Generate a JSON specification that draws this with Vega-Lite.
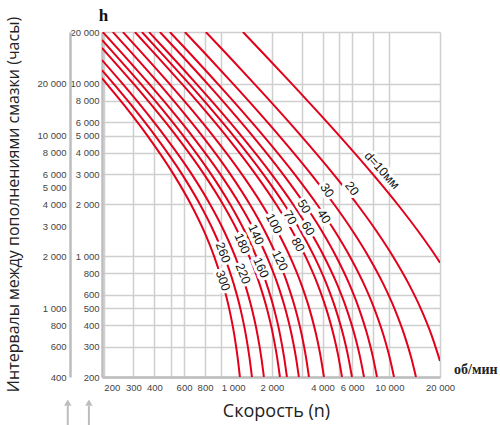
{
  "$schema": "https://vega.github.io/schema/vega-lite/v6.json",
  "width": 338,
  "height": 345,
  "autosize": {"type": "none"},
  "padding": {"left": 102, "top": 32, "right": 60, "bottom": 48},
  "background": "white",
  "config": {"view": {"stroke": null}},
  "datasets": {
    "curves": [
      {"d":10,"n":1344,"h":20000},{"d":10,"n":1779,"h":15000},{"d":10,"n":2630,"h":10000},{"d":10,"n":3688,"h":7000},{"d":10,"n":5041,"h":5000},{"d":10,"n":7961,"h":3000},{"d":10,"n":11207,"h":2000},{"d":10,"n":14835,"h":1400},{"d":10,"n":17701,"h":1100},{"d":10,"n":20000,"h":920},
      {"d":20,"n":809,"h":20000},{"d":20,"n":1069,"h":15000},{"d":20,"n":1573,"h":10000},{"d":20,"n":2196,"h":7000},{"d":20,"n":2982,"h":5000},{"d":20,"n":4645,"h":3000},{"d":20,"n":6442,"h":2000},{"d":20,"n":8389,"h":1400},{"d":20,"n":10507,"h":1000},{"d":20,"n":12960,"h":700},{"d":20,"n":15348,"h":500},{"d":20,"n":17811,"h":350},{"d":20,"n":20000,"h":248},
      {"d":30,"n":607,"h":20000},{"d":30,"n":801,"h":15000},{"d":30,"n":1176,"h":10000},{"d":30,"n":1636,"h":7000},{"d":30,"n":2212,"h":5000},{"d":30,"n":3417,"h":3000},{"d":30,"n":4696,"h":2000},{"d":30,"n":6056,"h":1400},{"d":30,"n":7505,"h":1000},{"d":30,"n":9146,"h":700},{"d":30,"n":10706,"h":500},{"d":30,"n":12278,"h":350},{"d":30,"n":13464,"h":260},{"d":30,"n":14390,"h":200},
      {"d":40,"n":494,"h":20000},{"d":40,"n":651,"h":15000},{"d":40,"n":953,"h":10000},{"d":40,"n":1321,"h":7000},{"d":40,"n":1780,"h":5000},{"d":40,"n":2726,"h":3000},{"d":40,"n":3712,"h":2000},{"d":40,"n":4742,"h":1400},{"d":40,"n":5818,"h":1000},{"d":40,"n":7011,"h":700},{"d":40,"n":8121,"h":500},{"d":40,"n":9216,"h":350},{"d":40,"n":10026,"h":260},{"d":40,"n":10651,"h":200},
      {"d":50,"n":431,"h":20000},{"d":50,"n":567,"h":15000},{"d":50,"n":828,"h":10000},{"d":50,"n":1143,"h":7000},{"d":50,"n":1533,"h":5000},{"d":50,"n":2326,"h":3000},{"d":50,"n":3138,"h":2000},{"d":50,"n":3969,"h":1400},{"d":50,"n":4819,"h":1000},{"d":50,"n":5743,"h":700},{"d":50,"n":6583,"h":500},{"d":50,"n":7396,"h":350},{"d":50,"n":7987,"h":260},{"d":50,"n":8436,"h":200},
      {"d":60,"n":371,"h":20000},{"d":60,"n":488,"h":15000},{"d":60,"n":711,"h":10000},{"d":60,"n":982,"h":7000},{"d":60,"n":1315,"h":5000},{"d":60,"n":1989,"h":3000},{"d":60,"n":2675,"h":2000},{"d":60,"n":3374,"h":1400},{"d":60,"n":4085,"h":1000},{"d":60,"n":4852,"h":700},{"d":60,"n":5546,"h":500},{"d":60,"n":6212,"h":350},{"d":60,"n":6695,"h":260},{"d":60,"n":7061,"h":200},
      {"d":70,"n":337,"h":20000},{"d":70,"n":442,"h":15000},{"d":70,"n":644,"h":10000},{"d":70,"n":886,"h":7000},{"d":70,"n":1182,"h":5000},{"d":70,"n":1776,"h":3000},{"d":70,"n":2372,"h":2000},{"d":70,"n":2969,"h":1400},{"d":70,"n":3569,"h":1000},{"d":70,"n":4206,"h":700},{"d":70,"n":4774,"h":500},{"d":70,"n":5312,"h":350},{"d":70,"n":5697,"h":260},{"d":70,"n":5986,"h":200},
      {"d":80,"n":306,"h":20000},{"d":80,"n":401,"h":15000},{"d":80,"n":583,"h":10000},{"d":80,"n":801,"h":7000},{"d":80,"n":1067,"h":5000},{"d":80,"n":1596,"h":3000},{"d":80,"n":2123,"h":2000},{"d":80,"n":2646,"h":1400},{"d":80,"n":3167,"h":1000},{"d":80,"n":3716,"h":700},{"d":80,"n":4201,"h":500},{"d":80,"n":4657,"h":350},{"d":80,"n":4981,"h":260},{"d":80,"n":5224,"h":200},
      {"d":100,"n":259.5,"h":20000},{"d":100,"n":340,"h":15000},{"d":100,"n":492,"h":10000},{"d":100,"n":674,"h":7000},{"d":100,"n":893,"h":5000},{"d":100,"n":1324,"h":3000},{"d":100,"n":1745,"h":2000},{"d":100,"n":2156,"h":1400},{"d":100,"n":2558,"h":1000},{"d":100,"n":2974,"h":700},{"d":100,"n":3336,"h":500},{"d":100,"n":3670,"h":350},{"d":100,"n":3905,"h":260},{"d":100,"n":4080,"h":200},
      {"d":120,"n":226,"h":20000},{"d":120,"n":295.5,"h":15000},{"d":120,"n":427,"h":10000},{"d":120,"n":582,"h":7000},{"d":120,"n":769,"h":5000},{"d":120,"n":1131,"h":3000},{"d":120,"n":1479,"h":2000},{"d":120,"n":1815,"h":1400},{"d":120,"n":2139,"h":1000},{"d":120,"n":2468,"h":700},{"d":120,"n":2751,"h":500},{"d":120,"n":3010,"h":350},{"d":120,"n":3190,"h":260},{"d":120,"n":3322,"h":200},
      {"d":140,"n":197,"h":20000},{"d":140,"n":257.6,"h":15000},{"d":140,"n":372,"h":10000},{"d":140,"n":507.5,"h":7000},{"d":140,"n":670,"h":5000},{"d":140,"n":986,"h":3000},{"d":140,"n":1289,"h":2000},{"d":140,"n":1582,"h":1400},{"d":140,"n":1863,"h":1000},{"d":140,"n":2151,"h":700},{"d":140,"n":2397,"h":500},{"d":140,"n":2622,"h":350},{"d":140,"n":2779,"h":260},{"d":140,"n":2894,"h":200},
      {"d":160,"n":195,"h":17970},{"d":160,"n":230.5,"h":15000},{"d":160,"n":332,"h":10000},{"d":160,"n":451.8,"h":7000},{"d":160,"n":594,"h":5000},{"d":160,"n":869,"h":3000},{"d":160,"n":1130,"h":2000},{"d":160,"n":1378,"h":1400},{"d":160,"n":1614,"h":1000},{"d":160,"n":1852,"h":700},{"d":160,"n":2055,"h":500},{"d":160,"n":2238,"h":350},{"d":160,"n":2364,"h":260},{"d":160,"n":2457,"h":200},
      {"d":180,"n":195,"h":16150},{"d":180,"n":208.7,"h":15000},{"d":180,"n":301,"h":10000},{"d":180,"n":409.3,"h":7000},{"d":180,"n":539,"h":5000},{"d":180,"n":788,"h":3000},{"d":180,"n":1024,"h":2000},{"d":180,"n":1250,"h":1400},{"d":180,"n":1465,"h":1000},{"d":180,"n":1681,"h":700},{"d":180,"n":1865,"h":500},{"d":180,"n":2032,"h":350},{"d":180,"n":2147,"h":260},{"d":180,"n":2232,"h":200},
      {"d":220,"n":195,"h":13750},{"d":220,"n":259,"h":10000},{"d":220,"n":350.7,"h":7000},{"d":220,"n":459,"h":5000},{"d":220,"n":666,"h":3000},{"d":220,"n":858,"h":2000},{"d":220,"n":1039,"h":1400},{"d":220,"n":1208,"h":1000},{"d":220,"n":1376,"h":700},{"d":220,"n":1517,"h":500},{"d":220,"n":1643,"h":350},{"d":220,"n":1729,"h":260},{"d":220,"n":1792,"h":200},
      {"d":260,"n":195,"h":12025},{"d":260,"n":229,"h":10000},{"d":260,"n":309.8,"h":7000},{"d":260,"n":404.5,"h":5000},{"d":260,"n":583,"h":3000},{"d":260,"n":747,"h":2000},{"d":260,"n":900,"h":1400},{"d":260,"n":1042,"h":1000},{"d":260,"n":1181,"h":700},{"d":260,"n":1297,"h":500},{"d":260,"n":1400,"h":350},{"d":260,"n":1470,"h":260},{"d":260,"n":1521,"h":200},
      {"d":300,"n":195,"h":10800},{"d":300,"n":208,"h":10000},{"d":300,"n":280.3,"h":7000},{"d":300,"n":364,"h":5000},{"d":300,"n":519,"h":3000},{"d":300,"n":660,"h":2000},{"d":300,"n":789,"h":1400},{"d":300,"n":906,"h":1000},{"d":300,"n":1020,"h":700},{"d":300,"n":1113,"h":500},{"d":300,"n":1195,"h":350},{"d":300,"n":1250,"h":260},{"d":300,"n":1290,"h":200}
    ],
    "labels": [
      {"d":10,"label":"d=10мм","n":9033,"h":3153},
      {"d":20,"label":"20","n":5986,"h":2477},
      {"d":30,"label":"30","n":4250,"h":2413},
      {"d":40,"label":"40","n":4079,"h":1703},
      {"d":50,"label":"50","n":3101,"h":1947},
      {"d":60,"label":"60","n":3276,"h":1450},
      {"d":70,"label":"70","n":2559,"h":1680},
      {"d":80,"label":"80","n":2856,"h":1171},
      {"d":100,"label":"100","n":2055,"h":1550},
      {"d":120,"label":"120","n":2232,"h":945},
      {"d":140,"label":"140","n":1606,"h":1338},
      {"d":160,"label":"160","n":1720,"h":860},
      {"d":180,"label":"180","n":1326,"h":1187},
      {"d":220,"label":"220","n":1344,"h":794},
      {"d":260,"label":"260","n":1022,"h":1052},
      {"d":300,"label":"300","n":1022,"h":723}
    ],
    "units": [{"label":"об/мин","n":20000,"h":200}],
    "arrows": [{"n":122,"top":136,"bottom":105,"tip":142},{"n":163,"top":136,"bottom":105,"tip":142}],
    "outer": [{"h2":400},{"h2":40000}]
  },
  "layer": [
    {
      "layer": [
        {
          "data": {"name": "curves"},
          "mark": {"type": "line", "color": "#e2001a", "strokeWidth": 2, "interpolate": "monotone", "clip": true},
          "encoding": {
            "x": {
              "field": "n", "type": "quantitative",
              "scale": {"type": "log", "domain": [195, 20000], "nice": false},
              "axis": {
                "values": [200,300,400,500,600,800,1000,2000,3000,4000,5000,6000,8000,10000,20000],
                "labelExpr": "indexof([500,3000,5000,8000], datum.value) >= 0 ? '' : replace(format(datum.value, ','), ',', ' ')",
                "labelAlign": {"condition": {"test": "datum.value == 1000 || datum.value == 200", "value": "left"}, "value": "center"},
                "title": "Скорость (n)",
                "titleFont": "Open Sans", "titleFontSize": 18, "titleFontWeight": "normal", "titleColor": "#222",
                "titleX": 174, "titleY": 34, "titleAlign": "center", "titleBaseline": "middle",
                "labelFont": "Liberation Sans", "labelFontSize": 9.5, "labelColor": "#444",
                "labelPadding": 5, "labelOverlap": false, "labelFlush": false, "labelBound": false,
                "ticks": false, "domainColor": "#bdbdbd", "domainWidth": 2.5,
                "grid": true, "gridColor": "#cfcfcf", "gridWidth": 1.5
              }
            },
            "y": {
              "field": "h", "type": "quantitative",
              "scale": {"type": "log", "domain": [200, 20000], "nice": false},
              "axis": {
                "values": [200,300,400,500,600,800,1000,2000,3000,4000,5000,6000,8000,10000,20000],
                "labelExpr": "replace(format(datum.value, ','), ',', ' ')",
                "title": "h", "titleAngle": 0, "titleX": 1, "titleY": -17, "titleAlign": "center", "titleBaseline": "middle",
                "titleFont": "Liberation Serif", "titleFontSize": 17, "titleFontWeight": "bold", "titleColor": "#111",
                "labelFont": "Liberation Sans", "labelFontSize": 9.5, "labelColor": "#444",
                "labelPadding": 3, "labelOverlap": false, "labelFlush": false, "labelBound": false,
                "ticks": false, "domainColor": "#bdbdbd", "domainWidth": 2.5,
                "grid": true, "gridColor": "#cfcfcf", "gridWidth": 1.5
              }
            },
            "detail": {"field": "d"}
          }
        },
        {
          "data": {"name": "labels"},
          "mark": {"type": "text", "font": "Liberation Sans", "fontSize": 12.5, "fill": "white", "stroke": "white", "strokeWidth": 6, "strokeJoin": "round"},
          "encoding": {
            "x": {"field": "n", "type": "quantitative"},
            "y": {"field": "h", "type": "quantitative"},
            "text": {"field": "label"},
            "angle": {"field": "d", "type": "quantitative", "scale": {"type": "log", "domain": [10, 300], "range": [48, 70]}, "legend": null}
          }
        },
        {
          "data": {"name": "labels"},
          "mark": {"type": "text", "font": "Liberation Sans", "fontSize": 12.5, "fill": "#111"},
          "encoding": {
            "x": {"field": "n", "type": "quantitative"},
            "y": {"field": "h", "type": "quantitative"},
            "text": {"field": "label"},
            "angle": {"field": "d", "type": "quantitative", "scale": {"type": "log", "domain": [10, 300], "range": [48, 70]}, "legend": null}
          }
        },
        {
          "data": {"name": "units"},
          "mark": {"type": "text", "font": "Liberation Serif", "fontWeight": "bold", "fontSize": 14, "align": "left", "baseline": "middle", "dx": 14, "dy": -7, "fill": "#222"},
          "encoding": {
            "x": {"field": "n", "type": "quantitative"},
            "y": {"field": "h", "type": "quantitative"},
            "text": {"field": "label"}
          }
        },
        {
          "data": {"name": "arrows"},
          "mark": {"type": "rule", "color": "#bdbdbd", "strokeWidth": 2},
          "encoding": {
            "x": {"field": "n", "type": "quantitative"},
            "y": {"field": "top", "type": "quantitative"},
            "y2": {"field": "bottom"}
          }
        },
        {
          "data": {"name": "arrows"},
          "mark": {"type": "point", "shape": "triangle-up", "filled": true, "color": "#bdbdbd", "size": 55, "opacity": 1},
          "encoding": {
            "x": {"field": "n", "type": "quantitative"},
            "y": {"field": "tip", "type": "quantitative"}
          }
        }
      ]
    },
    {
      "data": {"name": "outer"},
      "mark": {"type": "point", "opacity": 0},
      "encoding": {
        "y": {
          "field": "h2", "type": "quantitative",
          "scale": {"type": "log", "domain": [400, 40000], "nice": false},
          "axis": {
            "orient": "left", "offset": 32,
            "values": [400,600,800,1000,2000,3000,4000,5000,6000,8000,10000,20000],
            "labelExpr": "replace(format(datum.value, ','), ',', ' ')",
            "title": "Интервалы между пополнениями смазки (часы)",
            "titleFont": "Open Sans", "titleFontSize": 16, "titleFontWeight": "normal", "titleColor": "#222",
            "titleAngle": -90, "titleX": -57, "titleY": 172, "titleAlign": "center", "titleBaseline": "middle",
            "labelFont": "Liberation Sans", "labelFontSize": 9.5, "labelColor": "#444",
            "labelPadding": 4, "labelOverlap": false, "labelFlush": false, "labelBound": false,
            "ticks": false, "domainColor": "#bdbdbd", "domainWidth": 2.5, "grid": false
          }
        }
      }
    }
  ],
  "resolve": {"scale": {"y": "independent"}, "axis": {"y": "independent"}}
}
